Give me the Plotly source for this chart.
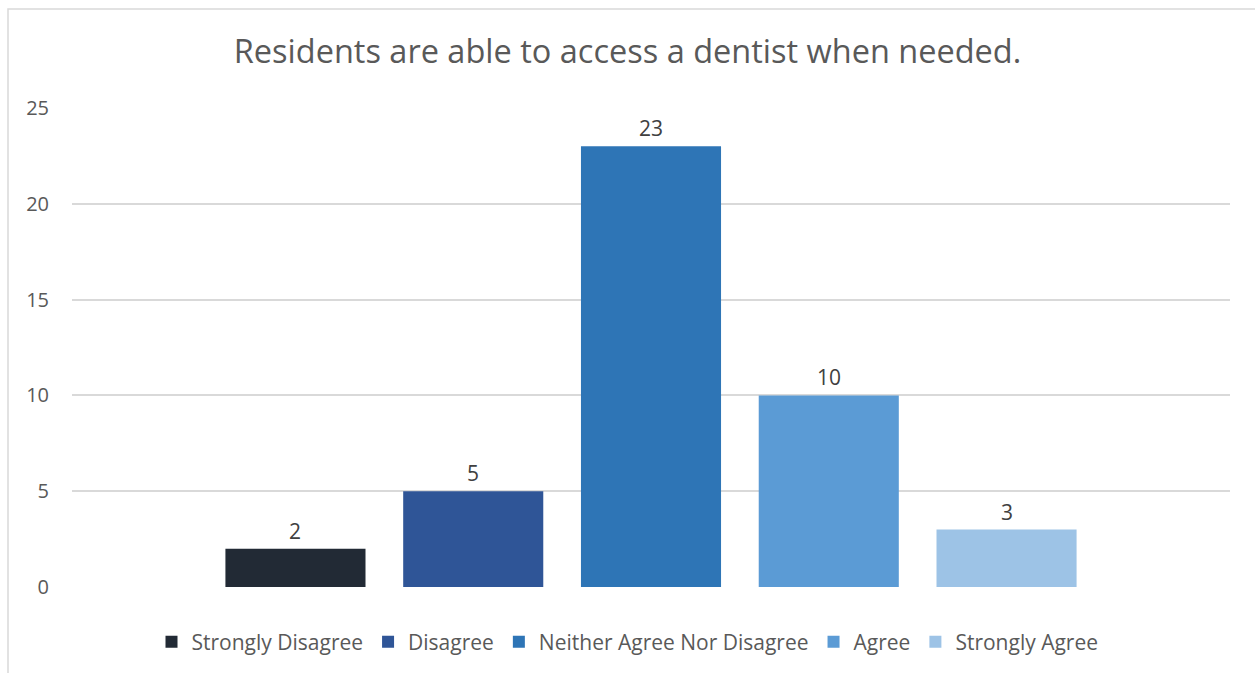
import plotly.graph_objects as go

# Survey responses for the statement
categories = ["Strongly Disagree", "Disagree", "Neither Agree Nor Disagree", "Agree", "Strongly Agree"]
counts = [2, 5, 23, 10, 3]
colors = ["#222A35", "#2F5597", "#2E75B6", "#5B9BD5", "#9DC3E6"]
y_ticks = [0, 5, 10, 15, 20, 25]
title_text = "Residents are able to access a dentist when needed."

FONT = "Open Sans, Noto Sans, sans-serif"

fig = go.Figure()
for name, val, col in zip(categories, counts, colors):
    fig.add_trace(go.Bar(
        x=[name], y=[val], name=name, width=0.788,
        marker=dict(color=col, line=dict(width=0)),
    ))
    # value label above each bar
    fig.add_annotation(x=name, y=val, text=str(val), showarrow=False,
                       yanchor="bottom", yshift=2,
                       font=dict(size=21, color="#404040", family=FONT))

fig.update_layout(
    width=1255, height=673,
    margin=dict(l=72, r=25, t=108, b=86),
    paper_bgcolor="white", plot_bgcolor="white",
    barmode="overlay",
    font=dict(family=FONT, color="#595959", size=20),
    title=dict(text=title_text, x=0.5, xref="container", xanchor="center",
               y=1 - 52 / 673, yanchor="middle", yref="container",
               font=dict(size=32.5, color="#595959", family=FONT)),
    xaxis=dict(type="category", categoryorder="array", categoryarray=categories,
               range=[-1.257, 5.257], showticklabels=False, showgrid=False,
               zeroline=False, showline=False, ticks=""),
    yaxis=dict(range=[0, 25], tickvals=y_ticks, showgrid=True,
               gridcolor="#D9D9D9", gridwidth=1.5, zeroline=False,
               showline=False, ticks="", ticklabelstandoff=22,
               tickfont=dict(size=20, color="#595959")),
    legend=dict(orientation="h", x=0.5, xanchor="center", xref="container",
                y=31 / 673, yanchor="middle", yref="container",
                font=dict(size=21, color="#595959"),
                traceorder="normal"),
    showlegend=True,
    shapes=[dict(type="rect", xref="paper", yref="paper",
                 x0=(8 - 72) / 1158, x1=1.1, y0=-0.4, y1=(587 - 9) / 479,
                 line=dict(color="#D9D9D9", width=1.5), fillcolor="rgba(0,0,0,0)",
                 layer="below")],
)

fig.write_html("out.html")
